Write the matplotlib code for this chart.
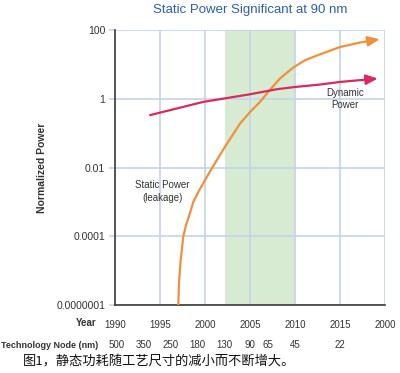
import matplotlib
matplotlib.use('Agg')
import matplotlib.pyplot as plt

# ==========================================
# DADOS
# ==========================================
static_years = [1997.03, 1997.11, 1997.30, 1997.59, 1997.89, 1998.33, 1998.7, 1999.37,
                2000.74, 2002.22, 2003.89, 2005.0, 2006.11, 2007.03, 2008.33, 2009.81,
                2011.11, 2012.78, 2015.0, 2017.2, 2019.4]
static_power = [1.0e-6, 4.4e-6, 2.0e-5, 1.0e-4, 2.1e-4, 4.7e-4, 1.0e-3, 2.2e-3,
                9.3e-3, 0.040, 0.19, 0.41, 0.81, 1.58, 3.9, 8.1,
                13.2, 19.6, 32, 43, 54]

dynamic_years = [1993.81, 1999.81, 2005.0, 2007.97, 2010.0, 2012.78, 2015.0, 2019.2]
dynamic_power = [0.33, 0.81, 1.35, 1.89, 2.2, 2.59, 3.08, 3.87]

year_ticks = [1990, 1995, 2000, 2005, 2010, 2015, 2020]
year_labels = ['1990', '1995', '2000', '2005', '2010', '2015', '2000']

node_years = [1990.2, 1993.2, 1996.2, 1999.2, 2002.1, 2005.0, 2007.0, 2010.0, 2015.0]
node_labels = ['500', '350', '250', '180', '130', '90', '65', '45', '22']

power_ticks = [1e-6, 1e-4, 1e-2, 1, 100]
power_labels = ['0.0000001', '0.0001', '0.01', '1', '100']

band_start, band_end = 2002.2, 2010.0

# ==========================================
# ESTILO
# ==========================================
plt.rcParams['font.family'] = ['Liberation Sans', 'Noto Sans CJK SC', 'DejaVu Sans']

grid_color = '#c3d3ea'
static_color = '#f0903a'
dynamic_color = '#d62b5c'
text_color = '#333333'

fig = plt.figure(figsize=(4.0, 3.73), dpi=100)
ax = fig.add_axes([115 / 400, 1 - 305 / 373, 270 / 400, 275 / 373])

ax.set_xlim(1990, 2020)
ax.set_ylim(1e-6, 100)
ax.set_yscale('log')

ax.axvspan(band_start, band_end, color='#d6ebd2', zorder=0, lw=0)

ax.set_xticks(year_ticks)
ax.set_xticklabels(year_labels, fontsize=7, color=text_color)
ax.set_yticks(power_ticks)
ax.set_yticklabels(power_labels, fontsize=7.5, color=text_color)
ax.yaxis.set_minor_locator(matplotlib.ticker.NullLocator())
ax.tick_params(axis='x', length=0, pad=11)
ax.tick_params(axis='y', length=4, color=grid_color, width=1.2, pad=3)
ax.grid(True, color=grid_color, linewidth=1.2, zorder=1)
ax.set_axisbelow(True)

for side in ['top', 'right']:
    ax.spines[side].set_visible(False)
for side in ['left', 'bottom']:
    ax.spines[side].set_color('#3a3a3a')
    ax.spines[side].set_linewidth(1.2)

# curvas com seta no final
arrow_style = '-|>,head_length=0.7,head_width=0.3'
ax.plot(static_years[:-1], static_power[:-1], color=static_color, linewidth=1.6,
        solid_joinstyle='round', solid_capstyle='butt', zorder=3)
ax.annotate('', xy=(static_years[-1], static_power[-1]),
            xytext=(static_years[-2], static_power[-2]),
            arrowprops=dict(arrowstyle=arrow_style, color=static_color, lw=1.6,
                            shrinkA=0, shrinkB=0), zorder=3)

ax.plot(dynamic_years[:-1], dynamic_power[:-1], color=dynamic_color, linewidth=1.6,
        solid_joinstyle='round', solid_capstyle='butt', zorder=3)
ax.annotate('', xy=(dynamic_years[-1], dynamic_power[-1]),
            xytext=(dynamic_years[-2], dynamic_power[-2]),
            arrowprops=dict(arrowstyle=arrow_style, color=dynamic_color, lw=1.6,
                            shrinkA=0, shrinkB=0), zorder=3)

ax.text(2015.6, 1.0, 'Dynamic\nPower', fontsize=7, color=text_color,
        ha='center', va='center', linespacing=1.3)
ax.text(1995.3, 2.0e-3, 'Static Power\n(leakage)', fontsize=7, color=text_color,
        ha='center', va='center', linespacing=1.3)

ax.set_ylabel('Normalized Power', fontsize=7.5, fontweight='bold', color=text_color, labelpad=7)

# linha dos nós tecnológicos
trans = ax.get_xaxis_transform()
for yr, lab in zip(node_years, node_labels):
    ax.text(yr, -40 / 275, lab, transform=trans, fontsize=7, color=text_color,
            ha='center', va='center')

fig.text(97 / 400, 1 - 323 / 373, 'Year', fontsize=7, fontweight='bold', color=text_color,
         ha='right', va='center')
fig.text(1 / 400, 1 - 345 / 373, 'Technology Node (nm)', fontsize=6.5, fontweight='bold',
         color=text_color, ha='left', va='center')

fig.text(250 / 400, 1 - 10 / 373, 'Static Power Significant at 90 nm', fontsize=9.5,
         color='#2f5fa8', ha='center', va='center')

fig.text(23 / 400, 1 - 362 / 373, '图1，静态功耗随工艺尺寸的减小而不断增大。',
         fontsize=9.5, color='#111111', ha='left', va='center',
         family=['Noto Sans CJK SC', 'DejaVu Sans'])

fig.savefig('out.png', dpi=100)
